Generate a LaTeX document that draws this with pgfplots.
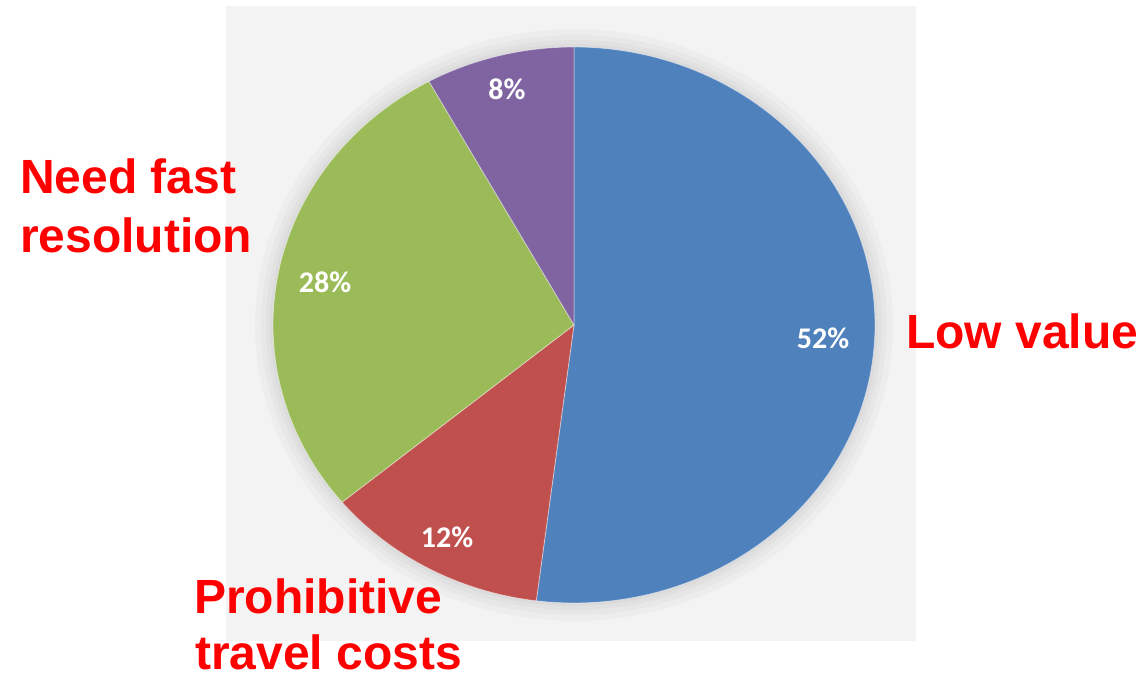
\documentclass[border=0pt]{standalone}
\usepackage{pgfplots}
\pgfplotsset{compat=1.18}
\usepackage{fontspec}
\setmainfont{Liberation Sans}
\newfontfamily\pctfont{Carlito}
\definecolor{pieblue}{HTML}{4F81BD}
\definecolor{piered}{HTML}{C0504D}
\definecolor{piegreen}{HTML}{9BBB59}
\definecolor{piepurple}{HTML}{8064A2}
\definecolor{bggray}{RGB}{243,243,243}
\definecolor{labred}{RGB}{255,0,0}
\begin{document}
\begin{tikzpicture}
% shares in percent: Low value, Prohibitive travel costs, Need fast resolution, other
\def\vA{52}\def\vB{12}\def\vC{28}\def\vD{8}
\pgfmathsetmacro{\aA}{90}
\pgfmathsetmacro{\aB}{\aA-3.6*\vA}
\pgfmathsetmacro{\aC}{\aB-3.6*\vB}
\pgfmathsetmacro{\aD}{\aC-3.6*\vC}
\pgfmathsetmacro{\aE}{\aD-3.6*\vD}
\def\cx{574}\def\cy{353}\def\rx{301}\def\ry{278}
\begin{axis}[hide axis, scale only axis, width=1145bp, height=678bp,
  xmin=0, xmax=1145, ymin=0, ymax=678, clip=false]
\addplot[draw=none] coordinates {(0,0) (1145,678)};
% background panel
\addplot[draw=none, fill=bggray] coordinates {(226,37) (916,37) (916,672) (226,672)} -- cycle;
% soft halo
\foreach \d in {18,12,7,3} {
  \addplot[draw=none, fill=black, fill opacity=0.025, domain=0:360, samples=120, variable=\t]
    ({\cx+(\rx+\d)*cos(\t)},{\cy+(\ry+\d)*sin(\t)}) -- cycle;
}
% slices
\addplot[fill=pieblue, draw=white, draw opacity=0.45, line width=0.8pt, domain=\aB:\aA, samples=120, variable=\t]
  ({\cx+\rx*cos(\t)},{\cy+\ry*sin(\t)}) -- (\cx,\cy) -- cycle;
\addplot[fill=piered, draw=white, draw opacity=0.45, line width=0.8pt, domain=\aC:\aB, samples=40, variable=\t]
  ({\cx+\rx*cos(\t)},{\cy+\ry*sin(\t)}) -- (\cx,\cy) -- cycle;
\addplot[fill=piegreen, draw=white, draw opacity=0.45, line width=0.8pt, domain=\aD:\aC, samples=80, variable=\t]
  ({\cx+\rx*cos(\t)},{\cy+\ry*sin(\t)}) -- (\cx,\cy) -- cycle;
\addplot[fill=piepurple, draw=white, draw opacity=0.45, line width=0.8pt, domain=\aE:\aD, samples=30, variable=\t]
  ({\cx+\rx*cos(\t)},{\cy+\ry*sin(\t)}) -- (\cx,\cy) -- cycle;
% percentage labels
\node[text=white, font=\pctfont\bfseries\fontsize{30bp}{32bp}\selectfont, inner sep=0pt] at (axis cs:823,340) {52\%};
\node[text=white, font=\pctfont\bfseries\fontsize{30bp}{32bp}\selectfont, inner sep=0pt] at (axis cs:447,141) {12\%};
\node[text=white, font=\pctfont\bfseries\fontsize{30bp}{32bp}\selectfont, inner sep=0pt] at (axis cs:325,396) {28\%};
\node[text=white, font=\pctfont\bfseries\fontsize{30bp}{32bp}\selectfont, inner sep=0pt] at (axis cs:507,589) {8\%};
% category labels
\node[text=labred, font=\bfseries\fontsize{48bp}{59bp}\selectfont, inner sep=0pt, anchor=base west] at (axis cs:20,484) {Need fast};
\node[text=labred, font=\bfseries\fontsize{48bp}{59bp}\selectfont, inner sep=0pt, anchor=base west] at (axis cs:20,425) {resolution};
\node[text=labred, font=\bfseries\fontsize{48bp}{59bp}\selectfont, inner sep=0pt, anchor=base west] at (axis cs:906,329) {Low value};
\node[text=labred, font=\bfseries\fontsize{48bp}{59bp}\selectfont, inner sep=0pt, anchor=base west] at (axis cs:194,64) {Prohibitive};
\node[text=labred, font=\bfseries\fontsize{48bp}{59bp}\selectfont, inner sep=0pt, anchor=base west] at (axis cs:195,9) {travel costs};
\end{axis}
\end{tikzpicture}
\end{document}
